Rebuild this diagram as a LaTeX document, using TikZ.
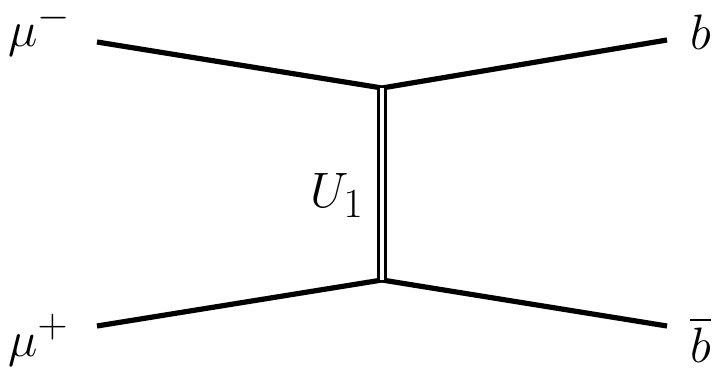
\documentclass[tikz,border=0pt]{standalone}
\usepackage{amsmath}
\usepackage{tikz}
\usetikzlibrary{positioning}
\tikzset{
  fermion/.style={line width=2.6pt},
  lq/.style={double,line width=1.3pt,double distance=2pt},
  lbl/.style={font=\fontsize{30}{36}\selectfont,inner sep=0pt}
}

\begin{document}
\begin{tikzpicture}[x=0.5pt,y=-0.5pt]
        \useasboundingbox (0,0) rectangle (721,373);
        % vertices and external legs
        \coordinate (vt) at (382,88);
        \coordinate (vb) at (382,280);
        \coordinate (mm) at (97,42);
        \coordinate (mp) at (97,326);
        \coordinate (bq) at (667,40);
        \coordinate (bb) at (667,326);
        \draw[fermion] (mm) -- (vt) -- (bq);
        \draw[fermion] (mp) -- (vb) -- (bb);
        \draw[lq] (vt) -- (vb);
        % labels
        \node[lbl,anchor=base west] (lmm) at (8,47) {$\mu^-$};
        \node[lbl,anchor=base west] (lmp) at (8,356) {$\mu^+$};
        \node[lbl,anchor=base west] (lbq) at (690,50) {$b$};
        \node[lbl,anchor=base west] (lbb) at (690,362) {$\overline{b}$};
        \node[lbl,anchor=base east] (lu) at (364,208) {$U_1$};
      \end{tikzpicture}
\end{document}
